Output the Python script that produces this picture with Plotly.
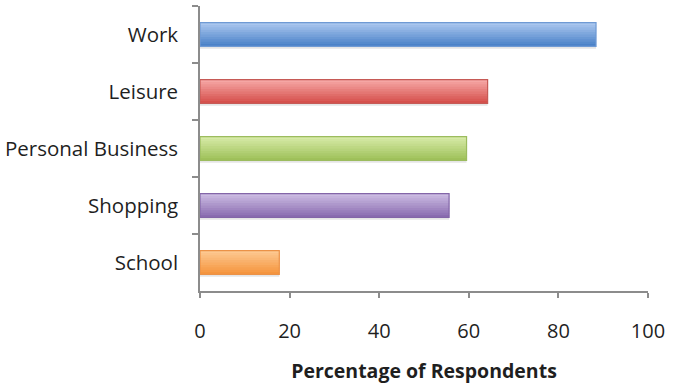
import plotly.graph_objects as go

# Trip purposes and share of respondents (%)
purposes = ["Work", "Leisure", "Personal Business", "Shopping", "School"]
shares = [88.4, 64.2, 59.5, 55.6, 17.7]

# Per-bar colour ramps (top, bottom) and outline colours
top_colors = ["#a9c6ee", "#f5a6a4", "#d6eaa6", "#cbbbe2", "#fdc890"]
bottom_colors = ["#4b82c8", "#d6504c", "#9fc15a", "#8a6cb0", "#f5953e"]
edge_colors = ["#6f9ad4", "#c65a56", "#9cbc5e", "#8366a8", "#eb9247"]

BAR_W = 0.42
N_SLICES = 10


def hex_to_rgb(h):
    h = h.lstrip("#")
    return tuple(int(h[i:i + 2], 16) for i in (0, 2, 4))


def mix(c1, c2, t):
    a, b = hex_to_rgb(c1), hex_to_rgb(c2)
    return "rgb(%d,%d,%d)" % tuple(round(a[k] + (b[k] - a[k]) * t) for k in range(3))


fig = go.Figure()

# soft drop shadow under each bar
fig.add_trace(go.Bar(
    x=shares, y=purposes, orientation="h",
    width=BAR_W, offset=-BAR_W / 2 + 0.04,
    marker=dict(color="rgba(0,0,0,0.10)", line=dict(width=0)),
    hoverinfo="skip", showlegend=False,
))

# vertical gradient built from overlapping horizontal slices
slice_w = BAR_W / N_SLICES
for i in range(N_SLICES):
    t = i / (N_SLICES - 1)
    w = slice_w * (1.6 if i < N_SLICES - 1 else 1.0)
    fig.add_trace(go.Bar(
        x=shares, y=purposes, orientation="h",
        width=w, offset=-BAR_W / 2 + i * slice_w,
        marker=dict(color=[mix(a, b, t) for a, b in zip(top_colors, bottom_colors)],
                    line=dict(width=0)),
        hoverinfo="skip", showlegend=False,
    ))

# outline
fig.add_trace(go.Bar(
    x=shares, y=purposes, orientation="h",
    width=BAR_W, offset=-BAR_W / 2,
    marker=dict(color="rgba(0,0,0,0)", line=dict(color=edge_colors, width=1.2)),
    showlegend=False,
))

axis_grey = "#8c8c8c"
text_col = "#1f1f1f"
fig.update_layout(
    width=676, height=387,
    margin=dict(l=200, r=28, t=6, b=96),
    paper_bgcolor="white", plot_bgcolor="white",
    barmode="overlay",
    font=dict(family="Open Sans", color=text_col),
    xaxis=dict(
        range=[0, 100], dtick=20, tick0=0, automargin=False,
        showgrid=False, zeroline=False,
        showline=True, linecolor=axis_grey, linewidth=1.5,
        ticks="outside", ticklen=5, tickcolor=axis_grey, tickwidth=1.5,
        tickfont=dict(size=20, family="Open Sans", color=text_col),
        ticklabelstandoff=16,
        title=dict(text="<b>Percentage of Respondents</b>",
                   font=dict(size=19.5, family="Open Sans", color=text_col),
                   standoff=22),
    ),
    yaxis=dict(
        type="category", autorange="reversed", automargin=False,
        showgrid=False, zeroline=False,
        showline=True, linecolor=axis_grey, linewidth=1.5,
        ticks="outside", tickson="boundaries", ticklen=6,
        tickcolor=axis_grey, tickwidth=1.5,
        tickfont=dict(size=20.5, family="Open Sans", color=text_col),
        ticklabelstandoff=16,
    ),
)

fig.write_html("out.html")
